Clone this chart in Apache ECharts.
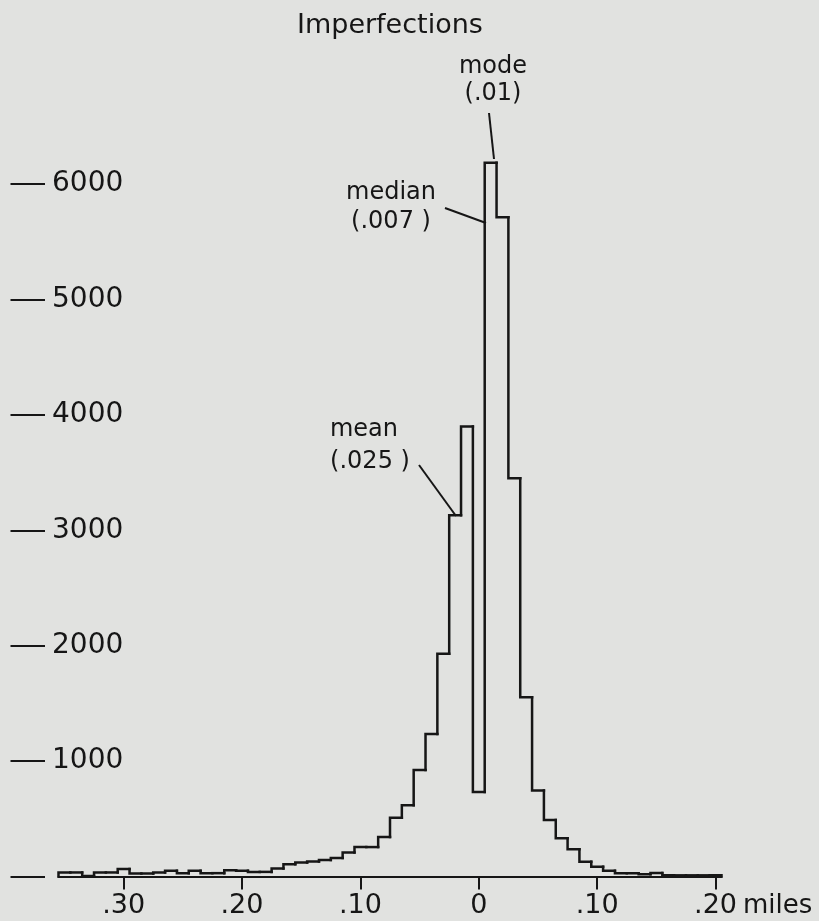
<!DOCTYPE html>
<html>
<head>
<meta charset="utf-8">
<script src="https://cdn.jsdelivr.net/npm/echarts@6/dist/echarts.min.js"></script>
<style>
html,body{margin:0;padding:0;background:#e1e2e0;}
#c{width:819px;height:921px;}
</style>
</head>
<body>
<div id="c"></div>
<script>
// bin centres (miles; negative = left of 0)
var binCenters = [
  -0.35,-0.34,-0.33,-0.32,-0.31,-0.30,-0.29,-0.28,-0.27,-0.26,
  -0.25,-0.24,-0.23,-0.22,-0.21,-0.20,-0.19,-0.18,-0.17,-0.16,
  -0.15,-0.14,-0.13,-0.12,-0.11,-0.10,-0.09,-0.08,-0.07,-0.06,
  -0.05,-0.04,-0.03,-0.02,-0.01, 0.00, 0.01, 0.02, 0.03, 0.04,
   0.05, 0.06, 0.07, 0.08, 0.09, 0.10, 0.11, 0.12, 0.13, 0.14,
   0.15, 0.16, 0.17, 0.18, 0.19, 0.20
];
// counts of imperfections per bin
var binCounts = [
   35,  35,   5,  35,  35,  65,  26,  26,  35,  49,
   29,  49,  29,  29,  55,  49,  40,  40,  69, 107,
  121, 130, 144, 160, 209, 255, 255, 342, 510, 617,
  922,1235,1930,3130,3900, 733,6186,5712,3451,1553,
  745, 490, 331, 236, 128,  85,  50,  28,  28,  19,
   30,  10,  10,  10,  10,  10
];
var xTickValues = [-0.3,-0.2,-0.1,0,0.1,0.2];
var xTickLabels = ['.30','.20','.10','0','.10','.20'];
var yTickValues = [0,1000,2000,3000,4000,5000,6000];
var yLabelValues = [1000,2000,3000,4000,5000,6000];
var yLabelTexts = ['1000','2000','3000','4000','5000','6000'];

var half = (binCenters[1]-binCenters[0])/2;
var last = binCenters.length-1;
var seriesData = binCenters.map(function(c,i){
  return [c, binCounts[i], i>0 ? binCounts[i-1] : 0];
});

var ink = '#161616';
var font = 'DejaVu Sans';

var chart = echarts.init(document.getElementById('c'), null, {renderer:'canvas'});
chart.setOption({
  backgroundColor:'#e1e2e0',
  animation:false,
  title:{
    text:'Imperfections', left:292, top:7,
    textStyle:{fontFamily:font,fontSize:27,fontWeight:'normal',color:ink}
  },
  grid:{left:58.5,right:97.5,top:126.4,bottom:44.5},
  xAxis:{
    type:'value', min:-0.355, max:0.205,
    splitLine:{show:false},
    axisLine:{show:true,onZero:false,lineStyle:{color:ink,width:2}},
    axisTick:{show:true,customValues:xTickValues,length:13,lineStyle:{color:ink,width:2}},
    axisLabel:{
      customValues:xTickValues, margin:16,
      fontFamily:font,fontSize:27,color:ink,
      formatter:function(v){
        for(var i=0;i<xTickValues.length;i++){ if(Math.abs(xTickValues[i]-v)<1e-9) return xTickLabels[i]; }
        return '';
      }
    },
    name:'miles', nameLocation:'end', nameGap:20,
    nameTextStyle:{fontFamily:font,fontSize:26,color:ink,verticalAlign:'top',padding:[17,0,0,0]}
  },
  yAxis:{
    type:'value', min:0, max:6500, offset:13.5,
    splitLine:{show:false},
    axisLine:{show:false,onZero:false},
    axisTick:{show:true,customValues:yTickValues,length:34.5,lineStyle:{color:ink,width:2}},
    axisLabel:{
      show:true, inside:true, customValues:yLabelValues, margin:7,
      fontFamily:font,fontSize:28,color:ink,
      formatter:function(v){
        for(var i=0;i<yLabelValues.length;i++){ if(yLabelValues[i]===v) return yLabelTexts[i]; }
        return '';
      }
    }
  },
  series:[{
    type:'custom',
    coordinateSystem:'cartesian2d',
    clip:false,
    data:seriesData,
    encode:{x:0,y:1},
    renderItem:function(params, api){
      var i = params.dataIndex;
      var c = api.value(0), v = api.value(1), p = api.value(2);
      var pts = [api.coord([c-half,p]), api.coord([c-half,v]), api.coord([c+half,v])];
      if(i===last){ pts.push(api.coord([c+half,0])); }
      return {type:'polyline', shape:{points:pts},
        style:{stroke:ink,lineWidth:2.5,fill:null,lineJoin:'miter',lineCap:'square'}};
    }
  }],
  graphic:[
    {type:'text',x:493,y:67,style:{text:'mode',fontFamily:font,fontSize:24,fill:ink,align:'center',verticalAlign:'middle'}},
    {type:'text',x:493,y:94,style:{text:'(.01)',fontFamily:font,fontSize:24,fill:ink,align:'center',verticalAlign:'middle'}},
    {type:'text',x:391,y:193,style:{text:'median',fontFamily:font,fontSize:24,fill:ink,align:'center',verticalAlign:'middle'}},
    {type:'text',x:391,y:222,style:{text:'(.007 )',fontFamily:font,fontSize:24,fill:ink,align:'center',verticalAlign:'middle'}},
    {type:'text',x:364,y:430,style:{text:'mean',fontFamily:font,fontSize:24,fill:ink,align:'center',verticalAlign:'middle'}},
    {type:'text',x:370,y:462,style:{text:'(.025 )',fontFamily:font,fontSize:24,fill:ink,align:'center',verticalAlign:'middle'}},
    {type:'line',shape:{x1:489,y1:113,x2:494,y2:159},style:{stroke:ink,lineWidth:2}},
    {type:'line',shape:{x1:445,y1:208,x2:486,y2:223},style:{stroke:ink,lineWidth:2}},
    {type:'line',shape:{x1:419,y1:465,x2:456,y2:516},style:{stroke:ink,lineWidth:2}}
  ]
});
</script>
</body>
</html>
